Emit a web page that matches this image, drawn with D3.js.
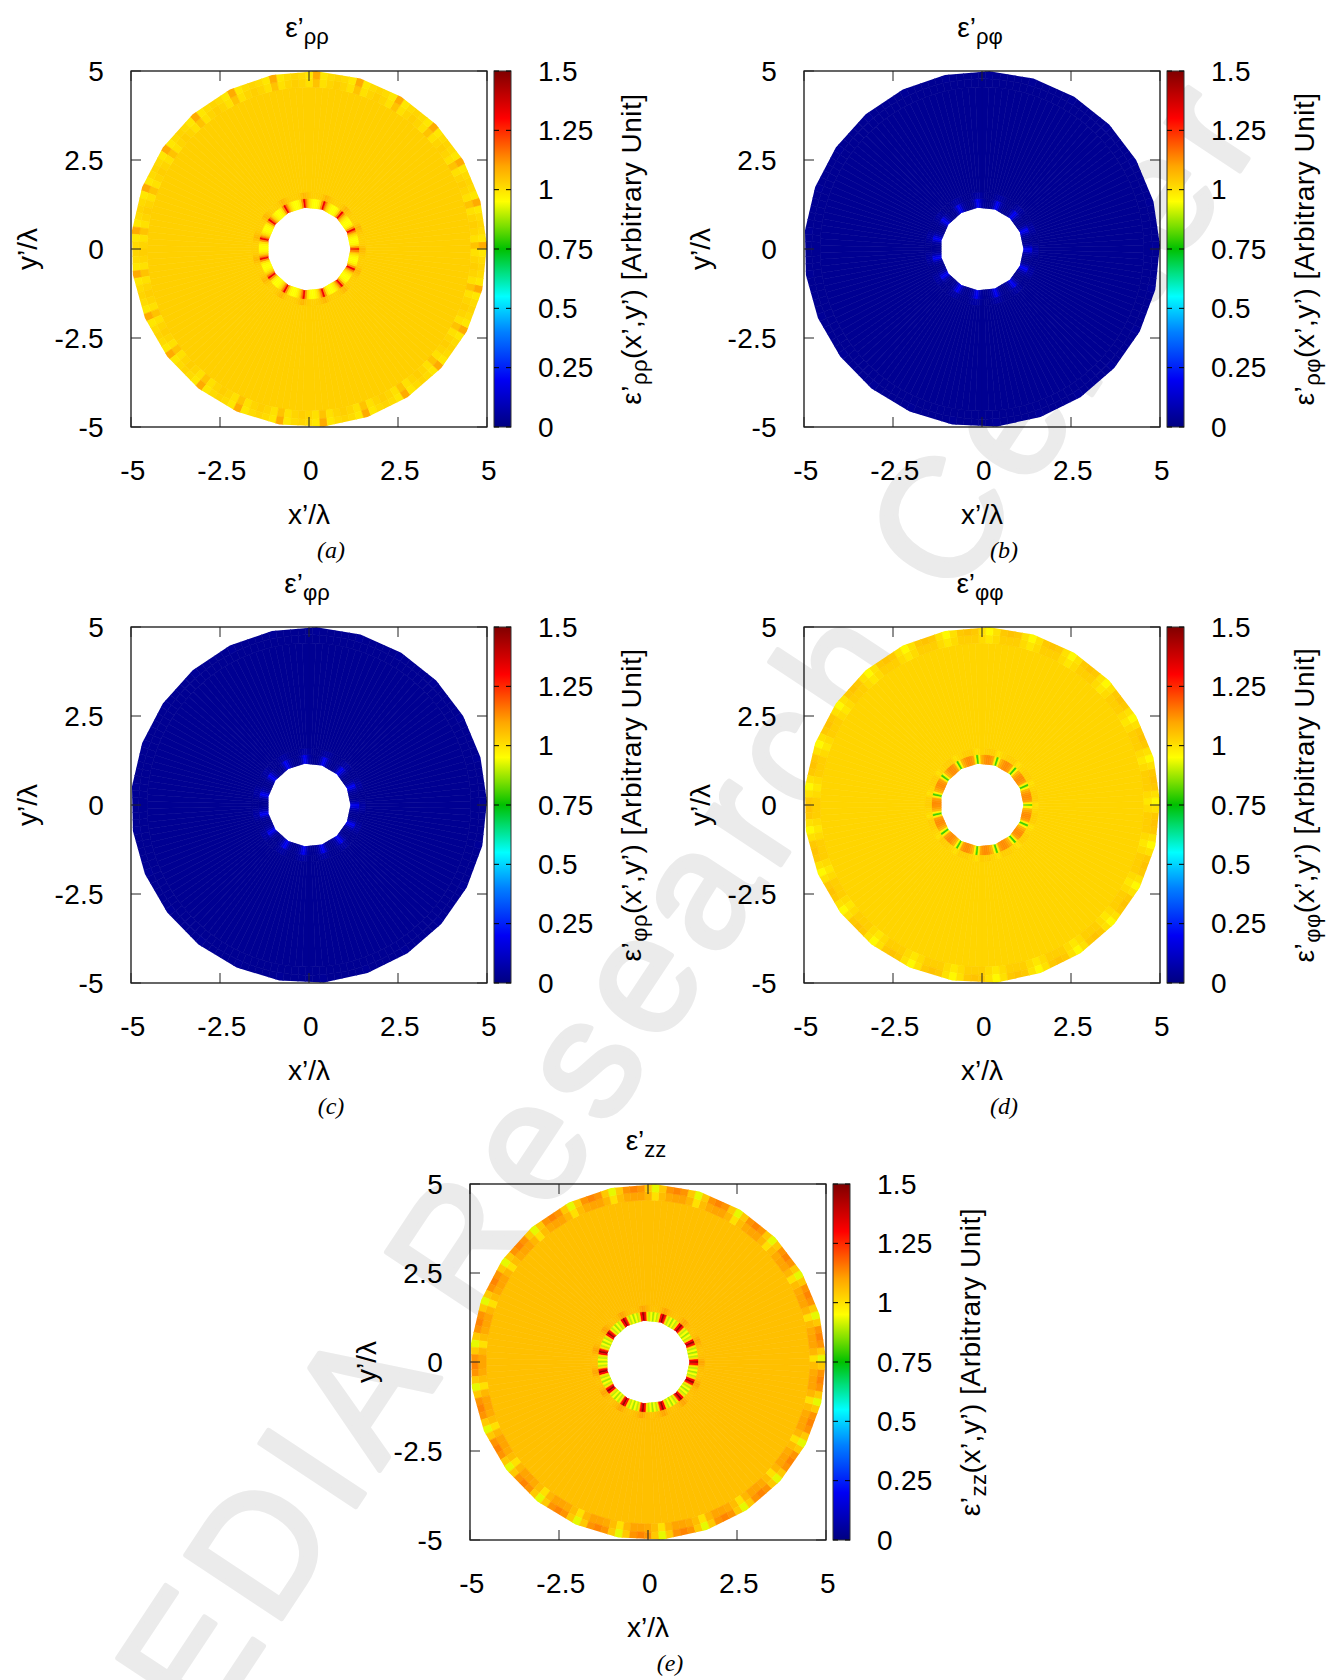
<!DOCTYPE html>
<html>
<head>
<meta charset="utf-8">
<script src="https://cdn.jsdelivr.net/npm/d3@7"></script>
<style>
  body { margin: 0; background: #fff; }
  svg text { font-family: "Liberation Sans", Arial, Helvetica, sans-serif; fill: #000; }
</style>
</head>
<body>
<svg id="fig" width="1341" height="1680"></svg>
<script>
// ---- labels ----
var components = ["ρρ", "ρφ", "φρ", "φφ", "zz"];
var panelTags = ["(a)", "(b)", "(c)", "(d)", "(e)"];
var axisTicks = [-5, -2.5, 0, 2.5, 5];
var axisTickLabels = ["-5", "-2.5", "0", "2.5", "5"];
var cbTicks = [0, 0.25, 0.5, 0.75, 1, 1.25, 1.5];
var cbTickLabels = ["0", "0.25", "0.5", "0.75", "1", "1.25", "1.5"];

// ---- palette (value -> colour) ----
var paletteStops = [0, 0.2, 0.4, 0.55, 0.75, 0.95, 1.1, 1.3, 1.5];
var paletteColors = ["#000080", "#0000f5", "#0080ff", "#00ffff", "#00c000", "#ffff00", "#ffa500", "#ff0000", "#800000"];

// ---- mesh (units of lambda) ----
var holeRadius = 1.165, holeSides = 15;          // hole polygon, vertices on the spikes
var outerRadius = 5, outerSides = 25, outerPhase = 1.2;
var cellStep = 2.4;                              // degrees per angular cell
var rhoEdges = [0.9, 1.42, 1.6, 4.55, 4.78, 5.3];

// ---- values ----
var bulkValue = [1.028, 0.03, 0.03, 1.02, 1.055];
// ring at the hole: one 24 deg period (10 cells), first cell on a spike
var innerBand = [
  [1.32, 1.12, 1.0, 0.96, 0.95, 0.95, 0.96, 0.99, 1.04, 1.14],
  [0.2, 0.12, 0.06, 0.04, 0.03, 0.03, 0.04, 0.05, 0.08, 0.15],
  [0.2, 0.12, 0.06, 0.04, 0.03, 0.03, 0.04, 0.05, 0.08, 0.15],
  [0.8, 0.97, 1.1, 1.12, 1.13, 1.13, 1.12, 1.1, 1.07, 0.96],
  [1.45, 1.3, 1.0, 0.9, 0.95, 0.88, 0.95, 0.9, 1.0, 1.28]
];
var innerHalo = [
  [1.07, 1.05, 1.035, 1.03, 1.028, 1.028, 1.03, 1.035, 1.045, 1.06],
  [0.06, 0.05, 0.04, 0.03, 0.03, 0.03, 0.03, 0.04, 0.05, 0.06],
  [0.06, 0.05, 0.04, 0.03, 0.03, 0.03, 0.03, 0.04, 0.05, 0.06],
  [1.0, 1.01, 1.03, 1.03, 1.03, 1.03, 1.03, 1.02, 1.02, 1.01],
  [1.1, 1.08, 1.06, 1.055, 1.05, 1.05, 1.055, 1.06, 1.07, 1.09]
];
// outer rim: one 14.4 deg period (6 cells), first cell on a polygon vertex
var outerInner = [
  [1.05, 1.0, 1.02, 1.03, 1.02, 1.0],
  [0.03, 0.03, 0.03, 0.03, 0.03, 0.03],
  [0.03, 0.03, 0.03, 0.03, 0.03, 0.03],
  [0.99, 1.01, 1.03, 1.03, 1.03, 1.01],
  [1.0, 1.07, 1.1, 1.1, 1.09, 1.06]
];
var outerEdge = [
  [1.09, 0.99, 1.01, 1.02, 1.01, 0.99],
  [0.04, 0.03, 0.03, 0.03, 0.03, 0.03],
  [0.04, 0.03, 0.03, 0.03, 0.03, 0.03],
  [0.96, 1.0, 1.04, 1.05, 1.04, 1.0],
  [0.93, 1.04, 1.12, 1.14, 1.12, 1.04]
];

// ---- layout ----
var frameX = [131, 804, 131, 804, 470];
var frameY = [71, 71, 627, 627, 1184];
var frameW = 356, frameH = 356;
var fs = "28px";

var svg = d3.select("#fig");
var color = d3.scaleLinear().domain(paletteStops).range(paletteColors).clamp(true);
var rad = Math.PI / 180;
var defs = svg.append("defs");

// colorbar gradient
var grad = defs.append("linearGradient").attr("id", "cbgrad")
    .attr("x1", 0).attr("y1", 1).attr("x2", 0).attr("y2", 0);
d3.range(0, 61).forEach(function (i) {
  var v = 1.5 * i / 60;
  grad.append("stop").attr("offset", (i / 60)).attr("stop-color", color(v));
});

// watermark (behind the plots)
svg.append("text")
    .attr("transform", "translate(206,1733) rotate(-56.5)")
    .style("font-size", "167px")
    .style("letter-spacing", "12px")
    .style("fill", "#ebebeb")
    .style("stroke", "#ebebeb")
    .style("stroke-width", 5)
    .style("stroke-linejoin", "round")
    .text("EDIA Research Center");

function polygonPts(r, sides, phase, x, y) {
  return d3.range(sides).map(function (k) {
    var a = (phase + k * 360 / sides) * rad;
    return [x(r * Math.cos(a)), y(r * Math.sin(a))];
  });
}

components.forEach(function (comp, p) {
  var x0 = frameX[p], y0 = frameY[p];
  var x = d3.scaleLinear().domain([-5, 5]).range([x0, x0 + frameW]);
  var y = d3.scaleLinear().domain([-5, 5]).range([y0 + frameH, y0]);
  var g = svg.append("g");

  // clip = outer polygon minus hole polygon
  var outerP = polygonPts(outerRadius, outerSides, outerPhase, x, y);
  var holeP = polygonPts(holeRadius, holeSides, 0, x, y);
  var clipD = "M" + outerP.join("L") + "Z M" + holeP.join("L") + "Z";
  defs.append("clipPath").attr("id", "clip" + p)
    .append("path").attr("d", clipD).attr("clip-rule", "evenodd");

  // cells
  var cells = [];
  var nCells = 360 / cellStep;
  var layers = [
    { vals: innerBand[p], phase: 0 },
    { vals: innerHalo[p], phase: 0 },
    { vals: null, phase: 0 },
    { vals: outerInner[p], phase: outerPhase },
    { vals: outerEdge[p], phase: outerPhase }
  ];
  layers.forEach(function (L, li) {
    for (var j = 0; j < nCells; j++) {
      var v = L.vals ? L.vals[j % L.vals.length] : bulkValue[p];
      var c = L.phase + j * cellStep;
      cells.push({ r0: rhoEdges[li], r1: rhoEdges[li + 1], a0: c - cellStep / 2, a1: c + cellStep / 2, v: v });
    }
  });

  var map = g.append("g").attr("clip-path", "url(#clip" + p + ")");
  map.selectAll("path").data(cells).join("path")
    .attr("d", function (d) {
      var a0 = d.a0 * rad, a1 = d.a1 * rad;
      var pts = [[d.r0, a0], [d.r1, a0], [d.r1, a1], [d.r0, a1]].map(function (q) {
        return [x(q[0] * Math.cos(q[1])), y(q[0] * Math.sin(q[1]))];
      });
      return "M" + pts.join("L") + "Z";
    })
    .attr("fill", function (d) { return color(d.v); })
    .attr("stroke", function (d) { return color(d.v); })
    .attr("stroke-width", 0.6);

  // frame and ticks
  g.append("rect").attr("x", x0).attr("y", y0).attr("width", frameW).attr("height", frameH)
    .attr("fill", "none").attr("stroke", "#000").attr("stroke-width", 1.2);
  var tl = 10;
  axisTicks.forEach(function (t) {
    g.append("line").attr("x1", x(t)).attr("x2", x(t)).attr("y1", y0 + frameH).attr("y2", y0 + frameH - tl).attr("stroke", "#222");
    g.append("line").attr("x1", x(t)).attr("x2", x(t)).attr("y1", y0).attr("y2", y0 + tl).attr("stroke", "#222");
    g.append("line").attr("x1", x0).attr("x2", x0 + tl).attr("y1", y(t)).attr("y2", y(t)).attr("stroke", "#222");
    g.append("line").attr("x1", x0 + frameW).attr("x2", x0 + frameW - tl).attr("y1", y(t)).attr("y2", y(t)).attr("stroke", "#222");
  });

  // tick labels
  g.selectAll(".xt").data(axisTicks).join("text")
    .attr("x", function (d) { return x(d) + 2; }).attr("y", y0 + frameH + 43)
    .attr("text-anchor", "middle").attr("dominant-baseline", "central")
    .style("font-size", fs).style("letter-spacing", "0.3px")
    .text(function (d, i) { return axisTickLabels[i]; });
  g.selectAll(".yt").data(axisTicks).join("text")
    .attr("x", x0 - 27).attr("y", function (d) { return y(d); })
    .attr("text-anchor", "end").attr("dominant-baseline", "central")
    .style("font-size", fs).style("letter-spacing", "0.3px")
    .text(function (d, i) { return axisTickLabels[i]; });

  // axis labels
  g.append("text").attr("x", x0 + frameW / 2).attr("y", y0 + frameH + 87)
    .attr("text-anchor", "middle").attr("dominant-baseline", "central")
    .style("font-size", fs).text("x’/λ");
  g.append("text").attr("transform", "translate(" + (x0 - 104) + "," + (y0 + frameH / 2) + ") rotate(-90)")
    .attr("text-anchor", "middle").attr("dominant-baseline", "central")
    .style("font-size", fs).text("y’/λ");

  // title
  var tt = g.append("text").attr("x", x0 + frameW / 2 - 2).attr("y", y0 - 44)
    .attr("text-anchor", "middle").attr("dominant-baseline", "central")
    .style("font-size", fs);
  tt.append("tspan").text("ε’");
  tt.append("tspan").attr("dy", 9).style("font-size", "22px").text(comp);

  // panel tag
  g.append("text").attr("x", x0 + frameW / 2 + 22).attr("y", y0 + frameH + 123)
    .attr("text-anchor", "middle").attr("dominant-baseline", "central")
    .style("font-family", "'Liberation Serif', 'Times New Roman', serif")
    .style("font-style", "italic").style("font-size", "24px")
    .text(panelTags[p]);

  // colorbar
  var cbX = x0 + frameW + 7, cbW = 17;
  var cy = d3.scaleLinear().domain([0, 1.5]).range([y0 + frameH, y0]);
  g.append("rect").attr("x", cbX).attr("y", y0).attr("width", cbW).attr("height", frameH)
    .attr("fill", "url(#cbgrad)").attr("stroke", "#333").attr("stroke-width", 1);
  cbTicks.forEach(function (t) {
    g.append("line").attr("x1", cbX).attr("x2", cbX + 5).attr("y1", cy(t)).attr("y2", cy(t)).attr("stroke", "#000");
    g.append("line").attr("x1", cbX + cbW).attr("x2", cbX + cbW - 5).attr("y1", cy(t)).attr("y2", cy(t)).attr("stroke", "#000");
  });
  g.selectAll(".ct").data(cbTicks).join("text")
    .attr("x", x0 + 407).attr("y", function (d) { return cy(d); })
    .attr("dominant-baseline", "central")
    .style("font-size", fs).style("letter-spacing", "0.3px")
    .text(function (d, i) { return cbTickLabels[i]; });

  var cl = g.append("text")
    .attr("transform", "translate(" + (x0 + 500) + "," + (y0 + frameH / 2) + ") rotate(-90)")
    .attr("text-anchor", "middle").attr("dominant-baseline", "central")
    .style("font-size", fs).style("letter-spacing", "0.5px");
  cl.append("tspan").text("ε’");
  cl.append("tspan").attr("dy", 8).style("font-size", "22px").text(comp);
  cl.append("tspan").attr("dy", -8).text("(x’,y’) [Arbitrary Unit]");
});
</script>
</body>
</html>
